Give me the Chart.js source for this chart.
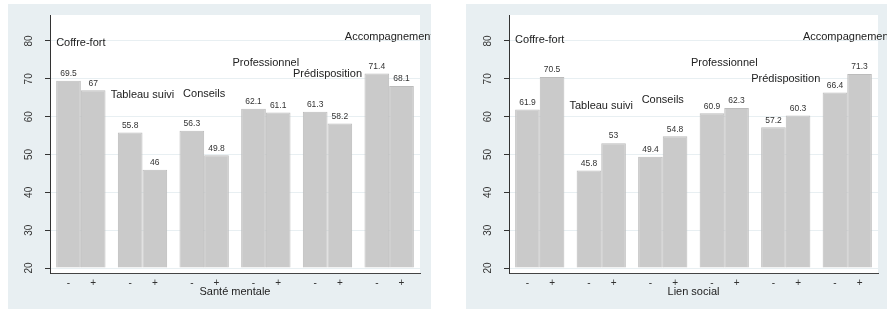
<!DOCTYPE html>
<html>
<head>
<meta charset="utf-8">
<script src="https://cdn.jsdelivr.net/npm/chart.js@4/dist/chart.umd.min.js"></script>
<style>
  html, body { margin: 0; padding: 0; background: #fff; }
  body { width: 887px; height: 309px; overflow: hidden; position: relative; }
  .panel { position: absolute; top: 4px; width: 423px; height: 305px; background: #e8eff2; }
  #left { left: 8px; }
  #right { left: 466px; }
</style>
</head>
<body>
<div class="panel" id="left"><canvas id="c1" width="423" height="305"></canvas></div>
<div class="panel" id="right"><canvas id="c2" width="423" height="305"></canvas></div>
<script>
// categories and values
const groups = ["Coffre-fort", "Tableau suivi", "Conseils", "Professionnel", "Prédisposition", "Accompagnement"];
const santeMoins = [69.5, 55.8, 56.3, 62.1, 61.3, 71.4];
const santePlus = [67, 46, 49.8, 61.1, 58.2, 68.1];
const lienMoins = [61.9, 45.8, 49.4, 60.9, 57.2, 66.4];
const lienPlus = [70.5, 53, 54.8, 62.3, 60.3, 71.3];
const yTicks = [20, 30, 40, 50, 60, 70, 80];
const signLabels = ["-", "+"];

// height (in axis units) where each group name is written
const santeNameAt = [79.5, 65.8, 66, 74.2, 71.3, 81];
const lienNameAt = [80.4, 62.8, 64.4, 74.3, 70, 81];

Chart.defaults.font.family = "'Liberation Sans', Arial, sans-serif";
Chart.defaults.color = "#333";

const BAR_FILL = "#cacaca";
const BAR_LINE = "#bcbcbc";

const labelsPlugin = {
  id: "stataLabels",
  beforeDraw(chart) {
    // white plot region
    const a = chart.chartArea;
    chart.ctx.save();
    chart.ctx.fillStyle = "#fff";
    chart.ctx.fillRect(a.left, a.top, a.right - a.left, a.bottom - a.top);
    chart.ctx.restore();
  },
  afterDraw(chart) {
    const ctx = chart.ctx;
    const xs = chart.scales.x;
    const ys = chart.scales.y;
    const area = chart.chartArea;
    ctx.save();

    // values above bars
    ctx.font = "8.5px 'Liberation Sans', Arial, sans-serif";
    ctx.fillStyle = "#333";
    ctx.textAlign = "center";
    ctx.textBaseline = "middle";
    chart.data.datasets.forEach((ds, di) => {
      chart.getDatasetMeta(di).data.forEach((bar, i) => {
        ctx.fillText(String(ds.data[i]), bar.x, bar.y - 7);
      });
    });

    // group names
    const levels = chart.options.plugins.stataLabels.levels;
    ctx.font = "11px 'Liberation Sans', Arial, sans-serif";
    ctx.fillStyle = "#222";
    groups.forEach((g, i) => {
      ctx.fillText(g, xs.getPixelForValue(i), ys.getPixelForValue(levels[i]));
    });

    // vertical y tick labels
    ctx.font = "10px 'Liberation Sans', Arial, sans-serif";
    ctx.fillStyle = "#333";
    yTicks.forEach(v => {
      ctx.save();
      ctx.translate(area.left - 21, ys.getPixelForValue(v));
      ctx.rotate(-Math.PI / 2);
      ctx.fillText(String(v), 0, 0);
      ctx.restore();
    });
    ctx.restore();
  }
};

function makeChart(id, axisTitle, minus, plus, levels, yWidth) {
  const barStyle = {
    base: 20,
    backgroundColor: BAR_FILL,
    borderColor: BAR_LINE,
    borderWidth: 1,
    categoryPercentage: 0.8,
    barPercentage: 1.0
  };
  return new Chart(document.getElementById(id), {
    type: "bar",
    data: {
      labels: groups,
      datasets: [
        Object.assign({ data: minus }, barStyle),
        Object.assign({ data: plus }, barStyle)
      ]
    },
    options: {
      responsive: false,
      devicePixelRatio: 1,
      animation: false,
      layout: { padding: { top: 11, right: 11, bottom: 0, left: 0 } },
      plugins: {
        legend: { display: false },
        tooltip: { enabled: false },
        stataLabels: { levels: levels }
      },
      scales: {
        x: { display: false },
        x2: {
          type: "linear",
          position: "bottom",
          offset: false,
          min: -0.5,
          max: 5.5,
          grid: { display: false, drawTicks: false },
          border: { display: true, color: "#444", width: 1 },
          afterBuildTicks: s => {
            const t = [];
            groups.forEach((g, i) => { t.push({ value: i - 0.2 }); t.push({ value: i + 0.2 }); });
            s.ticks = t;
          },
          afterFit: s => { s.height = 36; },
          ticks: {
            autoSkip: false,
            maxRotation: 0,
            padding: 4,
            font: { size: 10 },
            color: "#333",
            callback: (v, i) => signLabels[i % 2]
          },
          title: {
            display: true,
            text: axisTitle,
            color: "#222",
            font: { size: 11 },
            padding: { top: 0, bottom: 10 }
          }
        },
        y: {
          min: 18.68,
          max: 86.87,
          afterBuildTicks: s => { s.ticks = yTicks.map(v => ({ value: v })); },
          afterFit: s => { s.width = yWidth; },
          ticks: { display: false },
          grid: { color: "#e8eff2", lineWidth: 1, drawTicks: true, tickLength: 5, tickColor: "#333" },
          border: { display: true, color: "#333", width: 1 }
        }
      }
    },
    plugins: [labelsPlugin]
  });
}

makeChart("c1", "Santé mentale", santeMoins, santePlus, santeNameAt, 42);
makeChart("c2", "Lien social", lienMoins, lienPlus, lienNameAt, 43);
</script>
</body>
</html>
